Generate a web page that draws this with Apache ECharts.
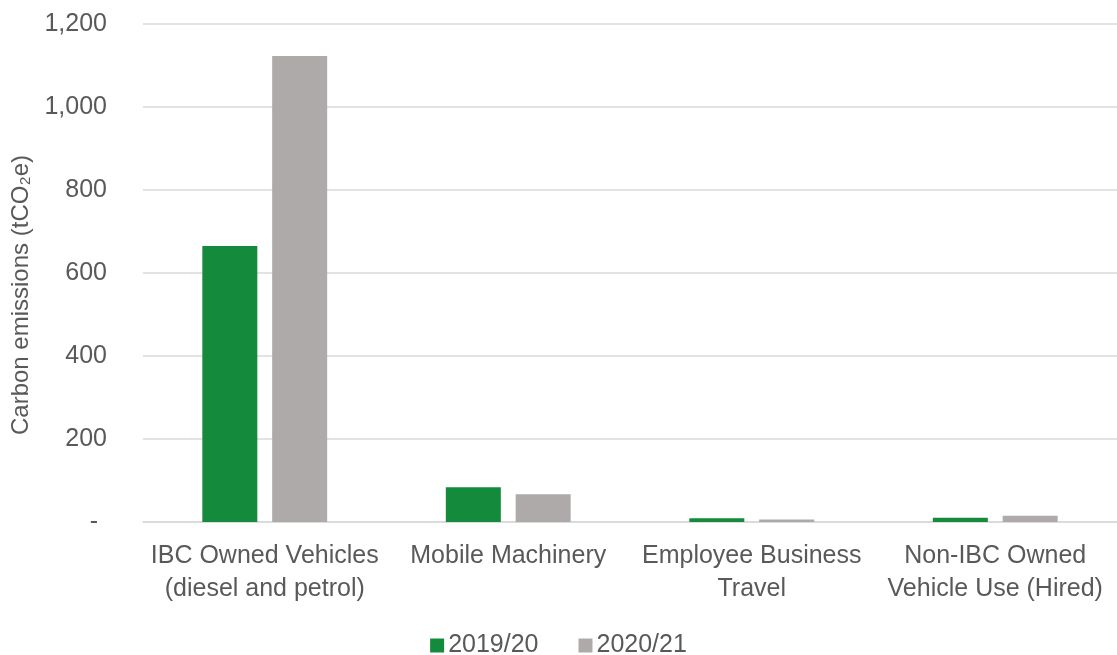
<!DOCTYPE html>
<html>
<head>
<meta charset="utf-8">
<script src="https://cdn.jsdelivr.net/npm/echarts@6/dist/echarts.min.js"></script>
<style>
html,body{margin:0;padding:0;background:#fff;}
#chart{width:1117px;height:655px;}
</style>
</head>
<body>
<div id="chart"></div>
<script>
const categories = ["IBC Owned Vehicles\n(diesel and petrol)", "Mobile Machinery", "Employee Business\nTravel", "Non-IBC Owned\nVehicle Use (Hired)"];
const seriesNames = ["2019/20", "2020/21"];
const values2019 = [665, 84, 9, 10];
const values2020 = [1123, 67, 6, 15];
const yTicks = [0, 200, 400, 600, 800, 1000, 1200];

const font = "Liberation Sans, Arial, sans-serif";
const textColor = "#595959";
const chart = echarts.init(document.getElementById('chart'));
chart.setOption({
  animation: false,
  textStyle: { fontFamily: font },
  grid: { left: 143, right: 0, top: 24, bottom: 133, containLabel: false },
  legend: {
    top: 628,
    left: 'center',
    itemWidth: 14,
    itemHeight: 14,
    itemGap: 40,
    icon: 'rect',
    textStyle: { fontSize: 25, color: textColor, fontFamily: font, padding: [0, 0, 0, -1] },
    data: seriesNames
  },
  xAxis: {
    type: 'category',
    data: categories,
    axisLine: { lineStyle: { color: '#d9d9d9', width: 1.5 } },
    axisTick: { show: false },
    axisLabel: { fontSize: 25, color: textColor, lineHeight: 33, margin: 18, interval: 0, fontFamily: font }
  },
  yAxis: {
    type: 'value',
    min: yTicks[0],
    max: yTicks[yTicks.length - 1],
    interval: 200,
    name: 'Carbon emissions (tCO₂e)',
    nameLocation: 'middle',
    nameGap: 107,
    nameTextStyle: { fontSize: 24, color: textColor, fontFamily: font, padding: [0, 44, 0, 0] },
    axisLine: { show: false },
    axisTick: { show: false },
    splitLine: { lineStyle: { color: '#d9d9d9', width: 1.5 } },
    axisLabel: {
      fontSize: 25, color: textColor, margin: 36, fontFamily: font,
      formatter: v => v === 0 ? '{z|-}' : v.toLocaleString('en-US'),
      rich: { z: { fontSize: 25, color: textColor, fontFamily: font, padding: [0, 9, 0, 0] } }
    }
  },
  series: [
    { name: seriesNames[0], type: 'bar', data: values2019, barWidth: 55, barGap: '27%', itemStyle: { color: '#148a3c' } },
    { name: seriesNames[1], type: 'bar', data: values2020, barWidth: 55, itemStyle: { color: '#aeaaaa' } }
  ]
});
</script>
</body>
</html>
